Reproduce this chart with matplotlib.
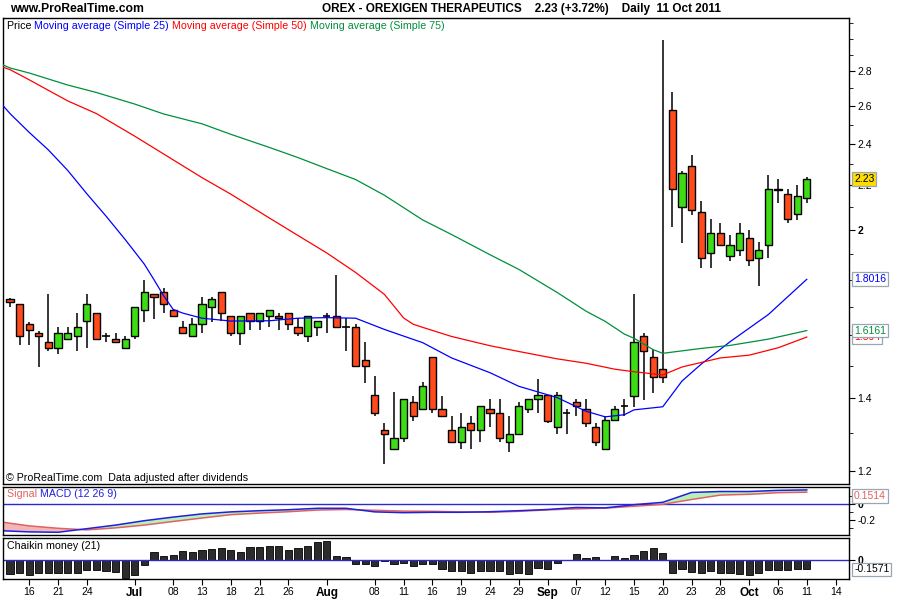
import numpy as np
import pandas as pd
import matplotlib
matplotlib.use('Agg')
import matplotlib.pyplot as plt
from matplotlib import transforms
from matplotlib.ticker import NullFormatter

plt.rcParams['font.family'] = ['Liberation Sans', 'DejaVu Sans']

# daily candles, 14 Jun 2011 .. 11 Oct 2011
opens = [1.727, 1.709, 1.638, 1.607, 1.576, 1.557, 1.586, 1.596, 1.648, 1.676,
         1.596, 1.586, 1.557, 1.596, 1.687, 1.748, 1.755, 1.687, 1.627, 1.596,
         1.638, 1.698, 1.755, 1.666, 1.607, 1.676, 1.648, 1.666, 1.666, 1.676,
         1.627, 1.596, 1.627, 1.666, 1.666, 1.627, 1.627, 1.517, 1.409, 1.308,
         1.257, 1.286, 1.388, 1.368, 1.527, 1.368, 1.308, 1.277, 1.328, 1.308,
         1.368, 1.356, 1.277, 1.297, 1.368, 1.397, 1.409, 1.317, 1.356, 1.388,
         1.368, 1.317, 1.257, 1.336, 1.377, 1.408, 1.596, 1.527, 1.489, 2.580,
         2.100, 2.291, 2.076, 1.906, 1.986, 1.894, 1.916, 1.965, 1.886, 1.937,
         2.184, 2.158, 2.068, 2.140]
highs = [1.731, 1.709, 1.647, 1.616, 1.748, 1.627, 1.627, 1.676, 1.748, 1.676,
         1.607, 1.607, 1.596, 1.698, 1.799, 1.748, 1.767, 1.687, 1.648, 1.659,
         1.737, 1.737, 1.755, 1.666, 1.666, 1.676, 1.676, 1.687, 1.676, 1.676,
         1.659, 1.666, 1.648, 1.676, 1.818, 1.659, 1.638, 1.576, 1.468, 1.328,
         1.419, 1.397, 1.408, 1.448, 1.527, 1.408, 1.349, 1.356, 1.349, 1.377,
         1.397, 1.397, 1.349, 1.388, 1.397, 1.458, 1.409, 1.419, 1.368, 1.397,
         1.397, 1.328, 1.349, 1.377, 1.397, 1.748, 1.607, 1.551, 2.992, 2.680,
         2.267, 2.346, 2.127, 2.047, 2.030, 1.979, 2.030, 2.000, 1.950, 2.249,
         2.228, 2.184, 2.198, 2.237]
lows = [1.698, 1.566, 1.566, 1.497, 1.546, 1.538, 1.586, 1.546, 1.556, 1.586,
        1.576, 1.576, 1.557, 1.586, 1.647, 1.657, 1.676, 1.666, 1.607, 1.596,
        1.607, 1.647, 1.648, 1.596, 1.566, 1.617, 1.617, 1.627, 1.617, 1.617,
        1.596, 1.576, 1.596, 1.607, 1.627, 1.547, 1.498, 1.447, 1.348, 1.217,
        1.257, 1.276, 1.335, 1.368, 1.356, 1.348, 1.277, 1.256, 1.256, 1.276,
        1.317, 1.276, 1.249, 1.297, 1.356, 1.356, 1.328, 1.297, 1.297, 1.348,
        1.317, 1.266, 1.257, 1.336, 1.347, 1.375, 1.395, 1.417, 1.447, 2.014,
        1.946, 2.065, 1.847, 1.847, 1.937, 1.874, 1.894, 1.855, 1.777, 1.886,
        2.116, 2.029, 2.044, 2.116]
closes = [1.716, 1.596, 1.617, 1.596, 1.557, 1.607, 1.607, 1.627, 1.709, 1.586,
          1.596, 1.576, 1.586, 1.698, 1.755, 1.737, 1.709, 1.666, 1.607, 1.638,
          1.709, 1.727, 1.676, 1.607, 1.666, 1.648, 1.676, 1.687, 1.659, 1.638,
          1.607, 1.666, 1.648, 1.666, 1.627, 1.627, 1.498, 1.498, 1.356, 1.297,
          1.286, 1.397, 1.348, 1.436, 1.368, 1.348, 1.277, 1.316, 1.308, 1.377,
          1.356, 1.286, 1.297, 1.377, 1.397, 1.409, 1.335, 1.409, 1.356, 1.377,
          1.328, 1.277, 1.336, 1.368, 1.377, 1.576, 1.546, 1.465, 1.465, 2.184,
          2.256, 2.086, 1.886, 1.986, 1.937, 1.937, 1.986, 1.876, 1.916, 2.184,
          2.175, 2.047, 2.149, 2.23]

# moving averages, read at selected bar indexes
ma25_idx = [-1, 0, 2, 4, 6, 8, 10, 12, 14, 15, 16, 17, 18, 20, 23, 27, 30, 33, 36, 39,
            43, 46, 50, 53, 57, 60, 62, 64, 65, 68, 70, 72, 75, 79, 83]
ma25 = [2.62, 2.56, 2.46, 2.37, 2.27, 2.16, 2.06, 1.96, 1.86, 1.80, 1.74, 1.69, 1.677,
        1.659, 1.649, 1.650, 1.659, 1.661, 1.659, 1.620, 1.575, 1.525, 1.478, 1.436,
        1.402, 1.362, 1.346, 1.352, 1.366, 1.375, 1.452, 1.505, 1.578, 1.672, 1.8016]
ma50_idx = [-1, 0, 2, 6, 9, 13, 16, 20, 23, 27, 30, 33, 36, 39, 41, 42, 43, 46, 50, 53,
            57, 60, 63, 65, 68, 70, 74, 77, 80, 83]
ma50 = [2.83, 2.81, 2.75, 2.63, 2.56, 2.44, 2.35, 2.235, 2.158, 2.052, 1.977, 1.905,
        1.828, 1.745, 1.66, 1.638, 1.627, 1.596, 1.565, 1.546, 1.522, 1.508, 1.489,
        1.481, 1.471, 1.496, 1.525, 1.534, 1.558, 1.594]
ma75_idx = [-1, 0, 2, 6, 9, 13, 16, 20, 23, 27, 30, 33, 36, 39, 43, 46, 50, 53, 57, 60,
            62, 64, 65, 67, 68, 72, 75, 79, 83]
ma75 = [2.845, 2.82, 2.79, 2.72, 2.677, 2.612, 2.558, 2.505, 2.45, 2.383, 2.332, 2.278,
        2.226, 2.153, 2.043, 1.981, 1.898, 1.84, 1.752, 1.684, 1.648, 1.604, 1.59,
        1.552, 1.540, 1.556, 1.566, 1.587, 1.6161]

# MACD (12 26 9)
macd_idx = [-1, 2, 5, 8, 11, 14, 17, 20, 23, 26, 29, 32, 35, 38, 41, 44, 47, 50, 53,
            56, 59, 62, 65, 68, 71, 74, 77, 80, 83]
macd = [-0.33, -0.345, -0.35, -0.305, -0.26, -0.205, -0.16, -0.12, -0.095, -0.08,
        -0.068, -0.05, -0.05, -0.095, -0.105, -0.10, -0.10, -0.093, -0.08, -0.065,
        -0.04, -0.045, -0.005, 0.025, 0.148, 0.16, 0.16, 0.174, 0.18]
signal = [-0.22, -0.27, -0.30, -0.32, -0.295, -0.26, -0.215, -0.172, -0.13, -0.11,
          -0.093, -0.072, -0.065, -0.075, -0.085, -0.088, -0.095, -0.10, -0.088, -0.07,
          -0.057, -0.048, -0.025, 0.0, 0.06, 0.115, 0.125, 0.145, 0.1514]

# Chaikin money flow (21)
chaikin = [-0.244, -0.227, -0.25, -0.215, -0.227, -0.215, -0.215, -0.215, -0.174, -0.174,
           -0.18, -0.198, -0.302, -0.262, -0.087, 0.145, 0.07, 0.087, 0.163, 0.145,
           0.174, 0.19, 0.209, 0.174, 0.145, 0.233, 0.233, 0.244, 0.244, 0.174,
           0.209, 0.244, 0.314, 0.331, 0.07, 0.052, -0.058, -0.058, -0.105, -0.017,
           -0.07, -0.052, -0.105, -0.07, -0.07, -0.145, -0.18, -0.19, -0.227, -0.19,
           -0.19, -0.19, -0.244, -0.227, -0.244, -0.128, -0.157, -0.052, 0.0, 0.105,
           0.035, 0.052, 0.0, 0.07, 0.035, 0.087, 0.163, 0.209, 0.128, -0.227,
           -0.145, -0.209, -0.227, -0.192, -0.227, -0.227, -0.244, -0.256, -0.227, -0.174,
           -0.174, -0.174, -0.157, -0.1571]

tick_dates = ['2011-06-16', '2011-06-21', '2011-06-24', '2011-07-01', '2011-07-08',
              '2011-07-13', '2011-07-18', '2011-07-21', '2011-07-26', '2011-08-01',
              '2011-08-08', '2011-08-11', '2011-08-16', '2011-08-19', '2011-08-24',
              '2011-08-29', '2011-09-01', '2011-09-07', '2011-09-12', '2011-09-15',
              '2011-09-20', '2011-09-23', '2011-09-28', '2011-10-03', '2011-10-06',
              '2011-10-11', '2011-10-14']
tick_labels = ['16', '21', '24', 'Jul', '08', '13', '18', '21', '26', 'Aug', '08', '11',
               '16', '19', '24', '29', 'Sep', '07', '12', '15', '20', '23', '28', 'Oct',
               '06', '11', '14']

# trading days (US holidays 4 Jul and 5 Sep removed)
days = pd.bdate_range('2011-06-14', '2011-10-17')
days = days[~days.isin(pd.to_datetime(['2011-07-04', '2011-09-05']))]
day_pos = {d: i for i, d in enumerate(days)}
tick_pos = [day_pos[pd.Timestamp(d)] for d in tick_dates]

o = np.array(opens)
h = np.array(highs)
l = np.array(lows)
c = np.array(closes)
x = np.arange(len(c))

RED = '#ff4b1c'
GREEN = '#3ddc16'
BOXEDGE = '#9aa6b2'

fig = plt.figure(figsize=(9, 6), dpi=100)
ax = fig.add_axes([3 / 900, 1 - 484.3 / 600, 846 / 900, 466.3 / 600])
axm = fig.add_axes([3 / 900, 1 - 535 / 600, 846 / 900, 47.7 / 600], sharex=ax)
axc = fig.add_axes([3 / 900, 1 - 579 / 600, 846 / 900, 40.7 / 600], sharex=ax)

# ---- price panel
ax.set_yscale('log')
ax.vlines(x, l, h, color='black', lw=1.1, zorder=2)
body_lo = np.minimum(o, c)
body_hi = np.maximum(o, c)
cols = np.where(c > o, GREEN, RED)
flat = (body_hi - body_lo) < 0.004
ax.bar(x[~flat], (body_hi - body_lo)[~flat], bottom=body_lo[~flat], width=0.76,
       color=cols[~flat], edgecolor='black', linewidth=1.0, zorder=3)
ax.hlines(o[flat], x[flat] - 0.38, x[flat] + 0.38, color='black', lw=1.2, zorder=3)

ax.plot(ma25_idx, ma25, color='#0000ff', lw=0.9, zorder=4)
ax.plot(ma50_idx, ma50, color='#ff0000', lw=0.9, zorder=4)
ax.plot(ma75_idx, ma75, color='#008f3c', lw=0.9, zorder=4)

ax.set_ylim(1.1666, 3.135)
ax.set_xlim(-0.73, 87.4)
ax.yaxis.tick_right()
ax.set_yticks([1.2, 1.4, 2.0, 2.2, 2.4, 2.6, 2.8])
ax.set_yticklabels(['1.2', '1.4', '2', '2.2', '2.4', '2.6', '2.8'])
ax.set_yticks([1.3, 1.5, 1.6, 1.7, 1.8, 1.9, 2.1, 2.3, 2.5, 2.7, 2.9, 3.0, 3.1], minor=True)
ax.yaxis.set_minor_formatter(NullFormatter())
for t in ax.get_yticklabels():
    if t.get_text() == '2':
        t.set_fontweight('bold')
ax.tick_params(axis='y', which='major', direction='out', length=4, pad=2, labelsize=7.5)
ax.tick_params(axis='y', which='minor', direction='out', length=3)
ax.tick_params(axis='x', which='both', bottom=False, labelbottom=False)

# ---- MACD panel
mi = np.array(macd_idx)
mv = np.array(macd)
sv = np.array(signal)
axm.fill_between(mi, mv, sv, where=mv >= sv, interpolate=True, color='#b9f0b9', lw=0)
axm.fill_between(mi, mv, sv, where=mv < sv, interpolate=True, color='#f3b6b6', lw=0)
axm.axhline(0, color='#2a2ad0', lw=1.0)
axm.plot(mi, sv, color='#e06262', lw=1.1)
axm.plot(mi, mv, color='#2020e0', lw=1.1)
axm.set_ylim(-0.384, 0.2125)
axm.yaxis.tick_right()
axm.set_yticks([0, -0.2])
axm.set_yticklabels(['0', '-0.2'])
axm.get_yticklabels()[0].set_fontweight('bold')
axm.set_yticks([0.1, -0.1, -0.3], minor=True)
axm.yaxis.set_minor_formatter(NullFormatter())
axm.tick_params(axis='y', which='major', direction='out', length=4, pad=2, labelsize=7.5)
axm.tick_params(axis='y', which='minor', direction='out', length=3)
axm.tick_params(axis='x', which='both', bottom=False, labelbottom=False)

# ---- Chaikin panel
axc.bar(x, chaikin, width=0.76, color='#2c2c2c', edgecolor='black', linewidth=0.6)
axc.axhline(0, color='#2a2ad0', lw=1.0)
axc.set_ylim(-0.325, 0.385)
axc.yaxis.tick_right()
axc.set_yticks([0])
axc.set_yticklabels(['0'], fontweight='bold')
axc.tick_params(axis='y', direction='out', length=4, pad=2, labelsize=7.5)
axc.set_xticks(tick_pos)
axc.set_xticklabels(tick_labels)
axc.tick_params(axis='x', direction='out', length=4, pad=2, labelsize=7.5)
for t in axc.get_xticklabels():
    if t.get_text() in ('Jul', 'Aug', 'Sep', 'Oct'):
        t.set_fontweight('bold')
        t.set_fontsize(8.5)

for a in (ax, axm, axc):
    for s in a.spines.values():
        s.set_linewidth(1.0)
        s.set_color('black')

renderer = fig.canvas.get_renderer()


def color_text(a, xx, yy, parts, size=7.7):
    tr = a.transAxes
    for s, col in parts:
        txt = a.text(xx, yy, s, color=col, transform=tr, fontsize=size, va='center')
        ext = txt.get_window_extent(renderer)
        tr = transforms.offset_copy(txt.get_transform(), fig=fig, x=ext.width, units='dots')


def value_box(a, yy, s, tc, fc='white', data=True):
    tr = transforms.blended_transform_factory(a.transAxes, a.transData if data else a.transAxes)
    a.text(1.006, yy, s, transform=tr, color=tc, fontsize=7.5, va='center', ha='left',
           clip_on=False, zorder=10,
           bbox=dict(boxstyle='square,pad=0.18', facecolor=fc, edgecolor=BOXEDGE, lw=0.9))


color_text(ax, 0.0047, 0.983, [('Price ', 'black'),
                               ('Moving average (Simple 25) ', '#0000ff'),
                               ('Moving average (Simple 50) ', '#ff0000'),
                               ('Moving average (Simple 75)', '#008f3c')])
ax.text(0.003, 0.0135, '\u00a9 ProRealTime.com  Data adjusted after dividends',
        transform=ax.transAxes, fontsize=7.7, va='center')
color_text(axm, 0.0047, 0.86, [('Signal ', '#e06262'), ('MACD (12 26 9)', '#2020e0')])
color_text(axc, 0.0047, 0.81, [('Chaikin money (21)', 'black')])

value_box(ax, closes[-1], '2.23', 'black', fc='#ffdd00')
value_box(ax, ma25[-1], '1.8016', '#0000ff')
value_box(ax, ma50[-1], '1.594', '#ff0000')
value_box(ax, ma75[-1], '1.6161', '#008f3c')
value_box(axm, 0.818, '0.1514', '#e06262', data=False)
value_box(axc, chaikin[-1], '-0.1571', 'black')

fig.text(10 / 900, 1 - 9 / 600, 'www.ProRealTime.com', fontsize=8.7, fontweight='bold',
         va='center', ha='left')
fig.text(322 / 900, 1 - 9 / 600,
         'OREX - OREXIGEN THERAPEUTICS    2.23 (+3.72%)    Daily  11 Oct 2011',
         fontsize=8.5, fontweight='bold', va='center', ha='left')

fig.savefig('out.png', dpi=100, facecolor='white')
